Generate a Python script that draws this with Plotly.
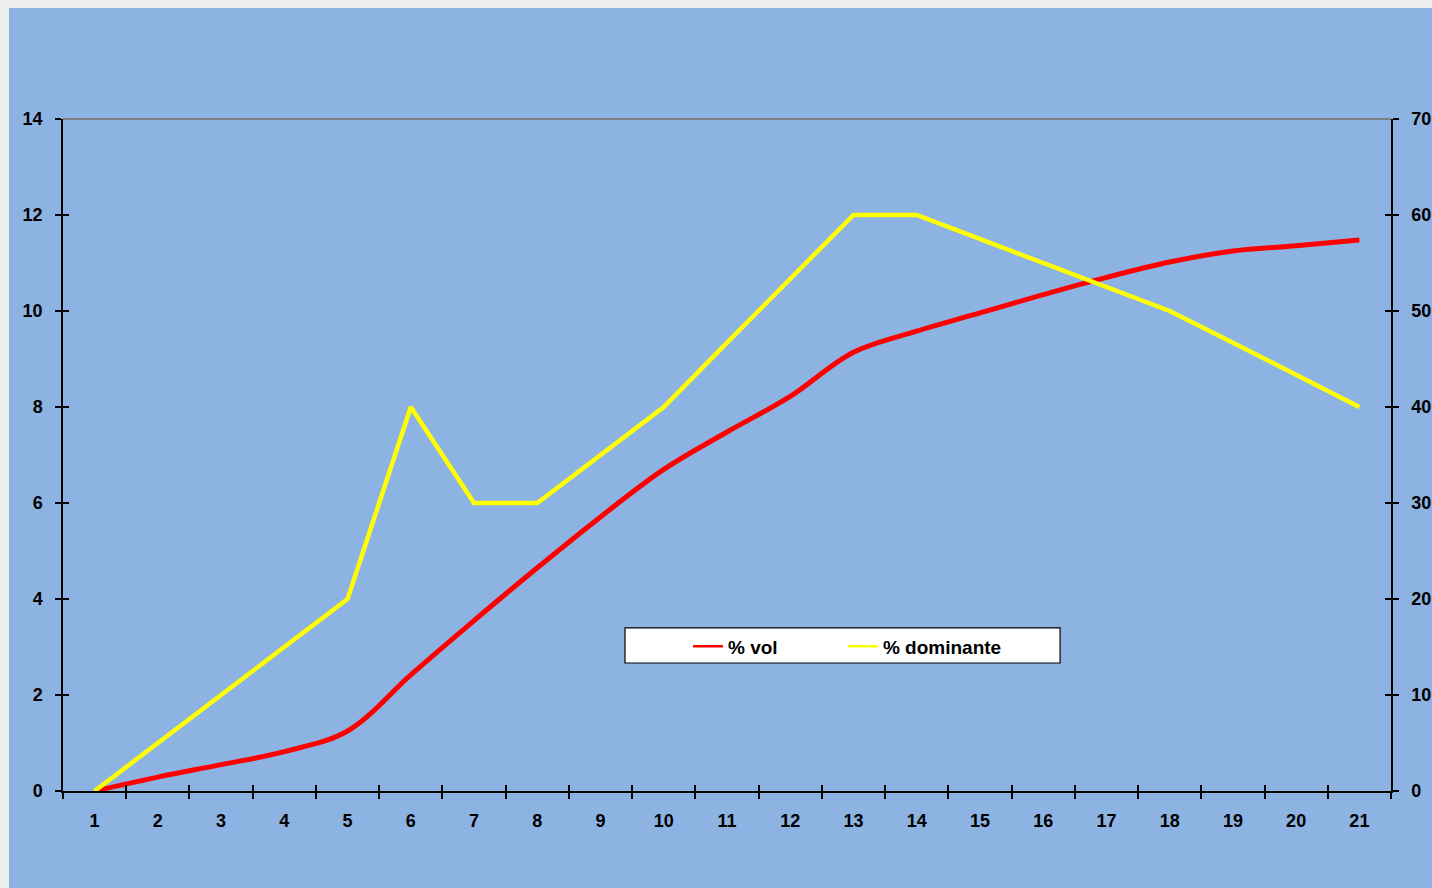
import plotly.graph_objects as go

categories = [str(i) for i in range(1, 22)]
pct_vol = [0.0, 0.29, 0.55, 0.82, 1.25, 2.42, 3.55, 4.65, 5.71, 6.7, 7.48, 8.22, 9.14, 9.58, 9.96, 10.34, 10.7, 11.02, 11.25, 11.36, 11.48]
pct_dom = [0, 5, 10, 15, 20, 40, 30, 30, 35, 40, 46.7, 53.3, 60, 60, 57.5, 55, 52.5, 50, 46.7, 43.3, 40]
left_ticks = list(range(0, 15, 2))
right_ticks = list(range(0, 71, 10))

BLUE = "#8DB3E2"
FONT = "Arial, Liberation Sans, sans-serif"
tickfont = dict(family=FONT, size=18, color="black", weight="bold")
legfont = dict(family=FONT, size=19, color="black", weight="bold")

fig = go.Figure()
fig.add_trace(go.Scatter(x=categories, y=pct_vol, mode="lines", name="% vol",
                         line=dict(color="#FF0000", width=5, shape="spline", smoothing=1.0),
                         showlegend=False, xaxis="x", yaxis="y"))
fig.add_trace(go.Scatter(x=categories, y=pct_dom, mode="lines", name="% dominante",
                         line=dict(color="#FFFF00", width=4.5),
                         showlegend=False, xaxis="x", yaxis="y2"))
# legend-only entries (thin samples)
fig.add_trace(go.Scatter(x=[None], y=[None], mode="lines", name="% vol", legend="legend",
                         line=dict(color="#FF0000", width=2.5), xaxis="x", yaxis="y"))
fig.add_trace(go.Scatter(x=[None], y=[None], mode="lines", name="% dominante", legend="legend2",
                         line=dict(color="#FFFF00", width=2.5), xaxis="x", yaxis="y2"))
# carriers for inside tick axes
fig.add_trace(go.Scatter(x=[None], y=[None], mode="lines", showlegend=False, xaxis="x2", yaxis="y3"))
fig.add_trace(go.Scatter(x=[None], y=[None], mode="lines", showlegend=False, xaxis="x2", yaxis="y4"))

tick_common = dict(ticklen=6, tickwidth=1.5, tickcolor="black", showgrid=False,
                   zeroline=False, automargin=False)

leg_common = dict(orientation="h", y=0.2436, xanchor="left", yanchor="top",
                  bgcolor="rgba(0,0,0,0)", borderwidth=0, font=legfont)

fig.update_layout(
    width=1432, height=888, autosize=False,
    margin=dict(l=63, r=41, t=119, b=97),
    paper_bgcolor=BLUE, plot_bgcolor="rgba(0,0,0,0)",
    font=dict(family=FONT, color="black"),
    xaxis=dict(type="category", categoryorder="array", categoryarray=categories,
               range=[-0.5, 20.5], tickson="boundaries", ticks="outside",
               showline=True, linecolor="black", linewidth=1.5,
               tickfont=tickfont, ticklabelstandoff=13, **tick_common),
    xaxis2=dict(overlaying="x", anchor="y", side="bottom", range=[-0.5, 20.5],
                tick0=-0.5, dtick=1, ticks="inside", showticklabels=False,
                showline=False, **tick_common),
    yaxis=dict(range=[0, 14], tickvals=left_ticks, ticks="outside",
               showline=True, linecolor="black", linewidth=1.5,
               tickfont=tickfont, ticklabelstandoff=9, **tick_common),
    yaxis2=dict(overlaying="y", side="right", anchor="x", range=[0, 70], tickvals=right_ticks,
                ticks="outside", showline=True, linecolor="black", linewidth=1.5,
                tickfont=tickfont, ticklabelstandoff=9, **tick_common),
    yaxis3=dict(overlaying="y", side="left", anchor="x2", range=[0, 14], tickvals=left_ticks,
                ticks="inside", showticklabels=False, showline=False, **tick_common),
    yaxis4=dict(overlaying="y", side="right", anchor="x2", range=[0, 70], tickvals=right_ticks,
                ticks="inside", showticklabels=False, showline=False, **tick_common),
    legend=dict(x=0.4706, **leg_common),
    legend2=dict(x=0.5873, **leg_common),
    shapes=[
        # legend box
        dict(type="rect", xref="paper", yref="paper", x0=0.4232, x1=0.7508, y0=0.1905, y1=0.2426,
             fillcolor="white", line=dict(color="black", width=1.2), layer="below"),
        # plot-area top border
        dict(type="line", xref="paper", yref="paper", x0=0, x1=1, y0=1, y1=1,
             line=dict(color="#808080", width=2), layer="below"),
        # outer page strips
        dict(type="rect", xref="paper", yref="paper", x0=-0.06, x1=1.05, y0=1.16518, y1=1.2,
             fillcolor="#EEEEEE", line=dict(width=0), layer="below"),
        dict(type="rect", xref="paper", yref="paper", x0=-0.06, x1=-0.04066, y0=-0.2, y1=1.2,
             fillcolor="#EEEEEE", line=dict(width=0), layer="below"),
    ],
)

fig.write_html("out.html", config={"displayModeBar": False},
               post_script="document.body.style.margin='0';")
